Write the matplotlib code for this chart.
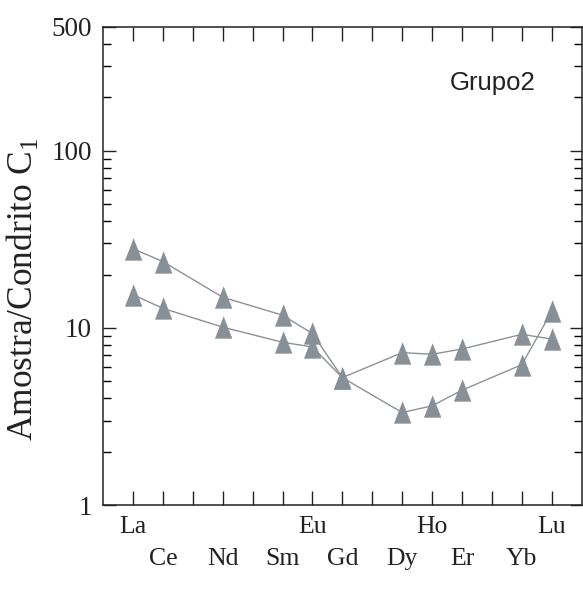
import matplotlib
matplotlib.use("Agg")
import matplotlib.pyplot as plt
from matplotlib.ticker import LogLocator, NullFormatter, FixedFormatter, FixedLocator

# full REE sequence sets the x spacing (Pr, Pm, Tb, Tm not analysed)
ree_order = ["La", "Ce", "Pr", "Nd", "Pm", "Sm", "Eu", "Gd", "Tb", "Dy", "Ho", "Er", "Tm", "Yb", "Lu"]
elements = ["La", "Ce", "Nd", "Sm", "Eu", "Gd", "Dy", "Ho", "Er", "Yb", "Lu"]
upper_row = ["La", "Eu", "Ho", "Lu"]

# chondrite-normalised values
amostra_a = [28.0, 23.7, 14.9, 11.8, 9.3, 5.24, 3.33, 3.63, 4.45, 6.2, 12.4]
amostra_b = [15.4, 12.9, 10.1, 8.3, 7.8, 5.24, 7.25, 7.1, 7.6, 9.2, 8.65]

plt.rcParams["mathtext.fontset"] = "custom"
plt.rcParams["mathtext.rm"] = "Liberation Serif"
serif = "Liberation Serif"

fig = plt.figure(figsize=(5.83, 6.01), dpi=100)
ax = fig.add_axes([0.1767, 0.1597, 0.821, 0.7954])

x = [ree_order.index(e) + 1 for e in elements]
grey = "#889097"
tri = [(-0.78, -1), (0.78, -1), (0, 1)]

for serie in (amostra_a, amostra_b):
    ax.plot(x, serie, color="#8c9196", lw=1.0, zorder=2)
for serie in (amostra_a, amostra_b):
    ax.plot(x, serie, ls="none", marker=tri, ms=15.5, mfc=grey, mec=grey,
            mew=0.4, zorder=3)

ax.set_yscale("log")
ax.set_ylim(1, 500)
ax.set_xlim(0, 16)

ax.yaxis.set_major_locator(FixedLocator([1, 10, 100, 500]))
ax.yaxis.set_major_formatter(FixedFormatter(["1", "10", "100", "500"]))
ax.yaxis.set_minor_locator(LogLocator(base=10, subs=range(2, 10), numticks=20))
ax.yaxis.set_minor_formatter(NullFormatter())

labels = []
for e in ree_order:
    if e not in elements:
        labels.append("")
    elif e in upper_row:
        labels.append(e)
    else:
        labels.append("\n" + e)
ax.set_xticks(range(1, 16))
ax.set_xticklabels(labels, fontfamily=serif, fontsize=18.5, linespacing=1.6)
for t in ax.get_yticklabels():
    t.set_fontfamily(serif)
    t.set_fontsize(19.5)

ax.tick_params(axis="x", which="both", direction="in", length=10, width=1.0,
               top=True, pad=8, colors="#222222")
ax.tick_params(axis="y", which="major", direction="in", length=9, width=1.0,
               right=True, pad=8, colors="#222222")
ax.tick_params(axis="y", which="minor", direction="in", length=5.5, width=1.0,
               right=True)
for s in ax.spines.values():
    s.set_linewidth(1.1)
    s.set_color("#222222")

ax.set_ylabel(r"Amostra/Condrito C$_\mathregular{1}$", fontfamily=serif,
              fontsize=25.5, color="#222222")
ax.yaxis.set_label_coords(-0.132, 0.452)

ax.text(0.814, 0.883, "Grupo2", transform=ax.transAxes, ha="center", va="center",
        fontfamily="Liberation Sans", fontsize=18.5, color="#222222")

fig.savefig("out.png", dpi=100)
